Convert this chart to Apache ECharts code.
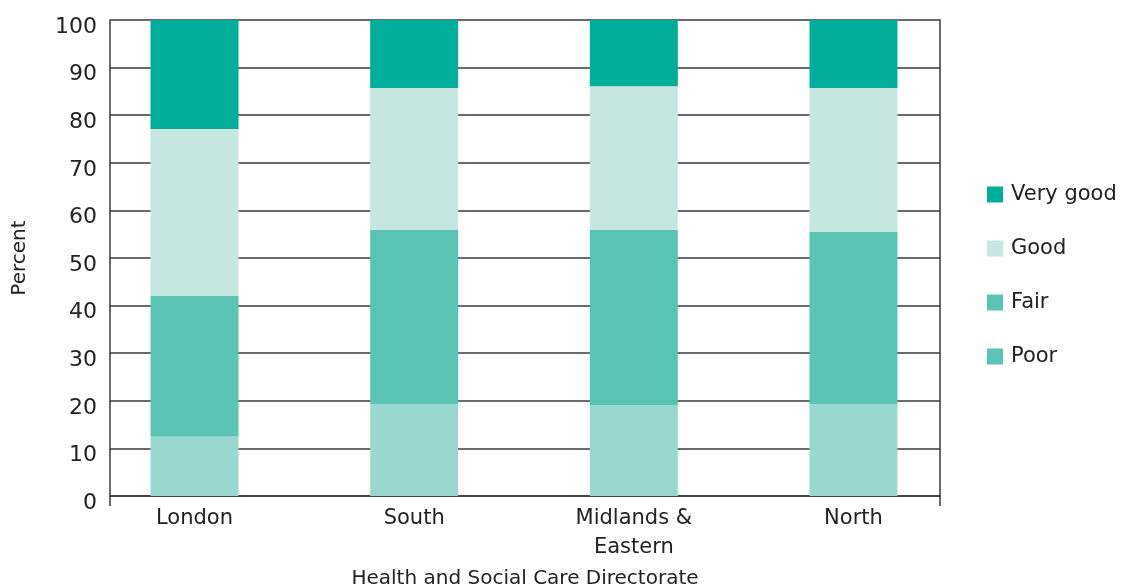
<!DOCTYPE html>
<html>
<head>
<meta charset="utf-8">
<script src="https://cdn.jsdelivr.net/npm/echarts@6/dist/echarts.min.js"></script>
<style>html,body{margin:0;padding:0;background:#fff}#c{width:1121px;height:587px}</style>
</head>
<body>
<div id="c"></div>
<script>
const categories = ['London', 'South', 'Midlands &\nEastern', 'North'];
const poor = [12.5, 19.3, 19.1, 19.3];
const fair = [29.5, 36.6, 36.8, 36.2];
const good = [35.1, 29.8, 30.2, 30.2];
const veryGood = [22.9, 14.3, 13.9, 14.3];
const yTicks = [0, 10, 20, 30, 40, 50, 60, 70, 80, 90, 100];

const FONT = '"DejaVu Sans", sans-serif';
const C_VG = '#00ae99', C_GOOD = '#c6e6e0', C_FAIR = '#5ac4b4', C_POOR = '#9ad7ce';
const LINE = '#3a3a3a';

const chart = echarts.init(document.getElementById('c'), null, {renderer: 'canvas'});
const barCommon = {type: 'bar', stack: 'all', xAxisIndex: 1, yAxisIndex: 2, barWidth: 88, animation: false};

chart.setOption({
  animation: false,
  textStyle: {fontFamily: FONT},
  grid: [
    {left: 110, right: 181, top: 20, bottom: 91, containLabel: false, outerBoundsMode: 'none'},
    {left: 84.7, right: 157.7, top: 20, bottom: 91, containLabel: false, outerBoundsMode: 'none'}
  ],
  legend: {
    orient: 'vertical', left: 982, top: 179,
    icon: 'rect',
    itemWidth: 16, itemHeight: 16, itemGap: 33,
    textStyle: {fontSize: 21, color: '#222', fontFamily: FONT, lineHeight: 20, padding: [0, 0, 0, 3]},
    data: [
      {name: 'Very good', itemStyle: {color: C_VG}},
      {name: 'Good', itemStyle: {color: C_GOOD}},
      {name: 'Fair', itemStyle: {color: C_FAIR}},
      {name: 'Poor', itemStyle: {color: C_FAIR}}
    ]
  },
  xAxis: [
    {
      gridIndex: 0, type: 'category', data: [''], boundaryGap: true,
      axisLine: {show: true, lineStyle: {color: LINE, width: 1.5}},
      axisTick: {show: true, length: 10, lineStyle: {color: LINE, width: 1.5}},
      axisLabel: {show: false},
      name: 'Health and Social Care Directorate', nameLocation: 'middle', nameGap: 73,
      nameTextStyle: {fontSize: 20, color: '#222', fontFamily: FONT}
    },
    {
      gridIndex: 1, type: 'category', data: categories,
      axisLine: {show: false}, axisTick: {show: false},
      axisLabel: {fontSize: 21, color: '#222', margin: 8, lineHeight: 29, fontFamily: FONT}
    }
  ],
  yAxis: [
    {
      gridIndex: 0, type: 'value', min: 0, max: 100, interval: 10,
      axisLine: {show: true, lineStyle: {color: LINE, width: 1.5}},
      axisTick: {show: false},
      splitLine: {show: true, lineStyle: {color: LINE, width: 1.5}},
      axisLabel: {fontSize: 22, color: '#222', margin: 13, fontFamily: FONT,
        verticalAlign: 'top', lineHeight: 14,
        formatter: v => yTicks.includes(v) ? String(v) : ''},
      name: 'Percent', nameLocation: 'middle', nameGap: 80, nameRotate: 90,
      nameTextStyle: {fontSize: 20, color: '#222', fontFamily: FONT}
    },
    {
      gridIndex: 0, type: 'value', position: 'right', min: 0, max: 100, interval: 10,
      axisLine: {show: true, lineStyle: {color: LINE, width: 1.5}},
      axisTick: {show: false}, axisLabel: {show: false}, splitLine: {show: false}
    },
    {
      gridIndex: 1, type: 'value', min: 0, max: 100, show: false
    }
  ],
  series: [
    Object.assign({name: 'Poor', data: poor, itemStyle: {color: C_POOR}}, barCommon),
    Object.assign({name: 'Fair', data: fair, itemStyle: {color: C_FAIR}}, barCommon),
    Object.assign({name: 'Good', data: good, itemStyle: {color: C_GOOD}}, barCommon),
    Object.assign({name: 'Very good', data: veryGood, itemStyle: {color: C_VG}}, barCommon)
  ]
});
</script>
</body>
</html>
